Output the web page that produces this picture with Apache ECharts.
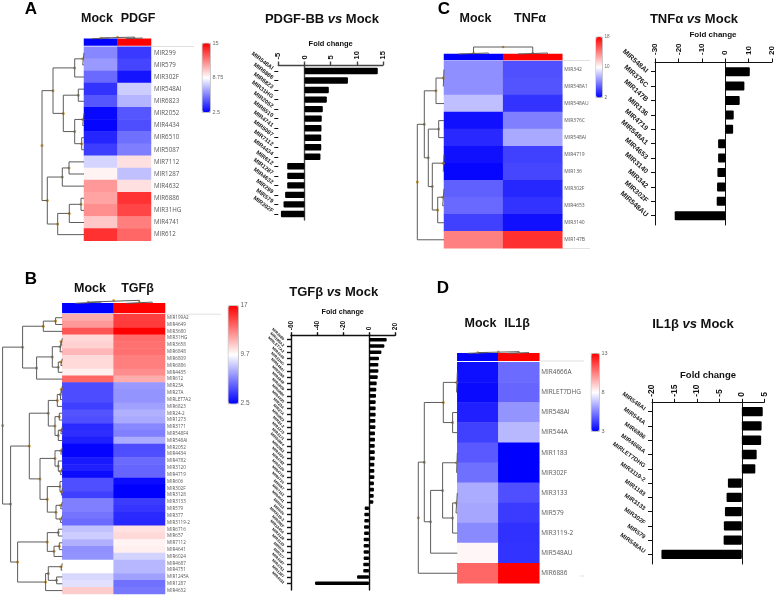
<!DOCTYPE html>
<html>
<head>
<meta charset="utf-8">
<title>miRNA heatmaps</title>
<script src="https://cdn.jsdelivr.net/npm/echarts@6/dist/echarts.min.js"></script>
<style>
html, body { margin: 0; padding: 0; background: #fff; }
#main { width: 776px; height: 595px; }
</style>
</head>
<body>
<div id="main"></div>
<script>
// panel A
const rowsA = ['MIR299', 'MIR579', 'MIR302F', 'MIR548AI', 'MIR6823', 'MIR2052', 'MIR4434', 'MIR6510', 'MIR5087', 'MIR7112', 'MIR1287', 'MIR4632', 'MIR6886', 'MIR31HG', 'MIR4741', 'MIR612'];
const mockA = [5.8, 6.25, 5.1, 3.75, 4.6, 2.7, 2.6, 3.4, 4.0, 7.7, 9.05, 11.25, 11, 11.5, 10.1, 13.8];
const pdgfA = [3.9, 4.2, 3.0, 7.5, 6.9, 4.6, 4.4, 5.25, 5.6, 9.5, 7.2, 9.5, 13.75, 13.3, 11.9, 12.5];
const treeA = [42,
  [31, [9.3, [1.3, 0, 1], 2], [20.7, [5.7, 3, 4], [9.3, [1.3, 5, 6], [2.3, 7, 8]]]],
  [36.7, [21.7, [15, 9, 10], 11], [26.3, [14.7, [3, 12, 13], 14], 15]]];
const colTreeA = [1.6, [0.7, 0, 1], [0.7, 2, 3]];
const barCatsA = ['MIR548AI', 'MIR6886', 'MIR6823', 'MIR31HG', 'MIR2052', 'MIR6510', 'MIR4741', 'MIR5087', 'MIR7112', 'MIR4434', 'MIR612', 'MIR1287', 'MIR4632', 'MIR299', 'MIR579', 'MIR302F'];
const barValsA = [14.0, 8.3, 4.65, 4.27, 3.5, 3.3, 3.25, 3.2, 3.2, 3.05, -3.3, -3.3, -3.3, -3.7, -4.0, -4.5];

// panel B
const rowsB = ['MIR199A2', 'MIR4649', 'MIR3680', 'MIR31HG', 'MIR3658', 'MIR6848', 'MIR6809', 'MIR6886', 'MIR4435', 'MIR612', 'MIR23A', 'MIR27A', 'MIRLET7A2', 'MIR6823', 'MIR24-2', 'MIR1273', 'MIR3171', 'MIR548F4', 'MIR548AI', 'MIR2052', 'MIR4434', 'MIR4782', 'MIR3120', 'MIR4719', 'MIR606', 'MIR302F', 'MIR3128', 'MIR3133', 'MIR579', 'MIR377', 'MIR3119-2', 'MIR6716', 'MIR657', 'MIR7112', 'MIR4641', 'MIR6024', 'MIR4687', 'MIR4751', 'MIR1245A', 'MIR1287', 'MIR4632'];
const mockB = [12.1, 12.65, 14.6, 10.9, 11.05, 11.8, 10.8, 10.85, 10.2, 14.1, 4.7, 4.7, 4.7, 4.3, 4.9, 4.75, 3.7, 3.8, 3.4, 2.65, 2.65, 3.2, 3.4, 2.8, 4.75, 4.75, 4.3, 6.1, 6.1, 5.8, 5.5, 8, 8.3, 7.5, 6.6, 6.7, 9.75, 9.75, 8.65, 8.9, 11.2];
const tgfB = [15.2, 15.3, 17, 14, 13.8, 13.8, 13.4, 13.4, 13, 12.1, 6.85, 6.7, 6.7, 7.05, 7.5, 7.3, 6.35, 6.1, 7.35, 4.7, 4.75, 5.5, 5.4, 5.4, 2.8, 2.5, 2.5, 4.2, 4, 3.7, 3.6, 10.6, 10.85, 10.1, 10.2, 8.5, 7.7, 7.7, 7.05, 5.7, 5.9];
const treeB = [59.7,
  [39.7, [19, [6.7, 0, 1], 2], [25.7, [10, [2.3, [1.3, 3, 4], 5], [4, [1.5, 6, 7], 8]], 9]],
  [51.7,
    [33,
      [14, [5, [2, [1, 10, 11], 12], 13], [7.3, [3, 14, 15], [4, [1.5, 16, 17], 18]]],
      [22.3, [7.3, [1.5, 19, 20], [4, 21, [2, 22, 23]]], [15, [2.3, 24, [1, 25, 26]], [6.3, [1.7, 27, 28], [2, 29, 30]]]]],
    [44.7,
      [15, [4, 31, 32], [8.3, [3, 33, 34], 35]],
      [16.7, [14, [1.3, 36, 37], [5.7, 38, 39]], 40]]]];
const colTreeB = [3, [1.2, 0, 1], [1.2, 2, 3]];
const barCatsB = ['MIR3680', 'MIR199A2', 'MIRLET7A2', 'MIR4649', 'MIR31HG', 'MIR548AI', 'MIR3658', 'MIR6848', 'MIR6809', 'MIR6886', 'MIR4435', 'MIR23A', 'MIR27A', 'MIR6823', 'MIR24-2', 'MIR1273', 'MIR3171', 'MIR548F4', 'MIR2052', 'MIR4434', 'MIR4782', 'MIR3120', 'MIR4719', 'MIR6716', 'MIR657', 'MIR7112', 'MIR4641', 'MIR612', 'MIR606', 'MIR3119-2', 'MIR302F', 'MIR1245A', 'MIR3128', 'MIR3133', 'MIR579', 'MIR377', 'MIR4687', 'MIR4751', 'MIR1287', 'MIR4632'];
const barValsB = [13.6, 11.8, 9.5, 7.7, 7.2, 7.2, 6.7, 5.9, 5.6, 5.4, 5.1, 5.1, 5.1, 4.9, 4.9, 4.6, 4.6, 4.4, 4.4, 4.4, 4.1, 4.1, 4.1, 3.8, 3.8, 3.6, 3.3, -3.3, -3.6, -3.6, -3.8, -3.8, -4.1, -4.1, -4.1, -4.1, -4.4, -4.4, -9.2, -41.5];

// panel C
const rowsC = ['MIR342', 'MIR548A1', 'MIR548AU', 'MIR376C', 'MIR548AI', 'MIR4719', 'MIR136', 'MIR302F', 'MIR4653', 'MIR3140', 'MIR147B'];
const mockC = [6.5, 6.5, 8, 2.5, 3.3, 2.5, 2.2, 5, 5.3, 4, 14];
const tnfC = [4.5, 4.65, 3.6, 6, 7.3, 4, 4.2, 3.2, 3.6, 2.5, 16.5];
const treeC = [26.7,
  [19.7, [8, [0.7, 0, 1], 2],
    [15.7, [5.3, 3, 4], [11.7, [0.7, 5, 6], [6.3, [1.3, 7, 8], 9]]]],
  10];
const colTreeC = [7, [1, 0, 1], [1, 2, 3]];
const barCatsC = ['MIR548AI', 'MIR376C', 'MIR147B', 'MIR136', 'MIR4719', 'MIR548A1', 'MIR4653', 'MIR3140', 'MIR342', 'MIR302F', 'MIR548AU'];
const barValsC = [10.4, 8.1, 6.1, 3.55, 3.3, -3.1, -3.1, -3.4, -3.55, -3.7, -21.6];

// panel D
const rowsD = ['MIR4666A', 'MIRLET7DHG', 'MIR548AI', 'MIR544A', 'MIR1183', 'MIR302F', 'MIR3133', 'MIR579', 'MIR3119-2', 'MIR548AU', 'MIR6886'];
const mockD = [3.3, 3.2, 3.6, 4.25, 4.75, 5.2, 6.35, 6.25, 5.7, 8.15, 11];
const il1D = [5.1, 5, 5.9, 6.6, 3, 3, 4.55, 4.15, 3.95, 4, 13];
const treeD = [39,
  [33, [14, [0.7, 0, 1], [4.7, 2, 3]],
    [26.7, [14.7, [0.7, 4, 5], [4.7, [1.3, 6, 7], 8]], 9]],
  10];
const colTreeD = [1.6, [0.7, 0, 1], [0.7, 2, 3]];
const barCatsD = ['MIR548AI', 'MIR544A', 'MIR6886', 'MIR4666A', 'MIRLET7DHG', 'MIR3119-2', 'MIR1183', 'MIR3133', 'MIR302F', 'MIR579', 'MIR548AU'];
const barValsD = [4.65, 4.4, 4.3, 3.3, 3.0, -3.1, -3.4, -3.76, -4, -4.05, -17.9];

const FONT = '"Liberation Sans", Arial, sans-serif';
const LABEL_FONT = '"Open Sans", "Liberation Sans", sans-serif';
const AMBER = '#c98a12';
const TREE_LINE = '#5c5c5c';

const panels = [
  {
    letter: 'A', letterPos: [31, 9],
    rows: rowsA, a: mockA, b: pdgfA, tree: treeA, colTree: colTreeA,
    names: ['Mock', 'PDGF'], namePos: [[97, 19], [138, 19]],
    range: [2.5, 15], rangeText: ['15', '8.75', '2.5'],
    hm: { left: 84, right: 151, top: 46.7, bottom: 240.7, head: [38.7, 45.5], dendroW: 44, colH: 3, font: 6.2, rowMargin: 3 },
    cbar: { left: 202, top: 43, w: 8, h: 69, font: 5.5 },
    cats: barCatsA, vals: barValsA,
    title: ['PDGF-BB ', ' Mock'], titlePos: [322, 19],
    fold: { pos: [330.7, 43.7], font: 7.5 },
    bar: { left: 278.3, right: 383, top: 65, bottom: 220, min: -5, max: 15, interval: 5, first: 71, step: 9.53, barH: 6.4, leftLine: false, tickFont: 7.5, tickMargin: 5.5, catFont: 5.7, catRotate: -37, catMargin: 7.5, catAlign: 'bottom', lw: 1.4, axisColor: '#444' }
  },
  {
    letter: 'B', letterPos: [31, 279],
    rows: rowsB, a: mockB, b: tgfB, tree: treeB, colTree: colTreeB,
    names: ['Mock', 'TGF\u03b2'], namePos: [[90, 289], [137.5, 289]],
    range: [2.5, 17], rangeText: ['17', '9.7', '2.5'],
    hm: { left: 62.3, right: 165, top: 314.3, bottom: 594, head: [303.3, 313], dendroW: 62, colH: 3, font: 4.6, rowMargin: 2 },
    cbar: { left: 228, top: 305.5, w: 10, h: 98, font: 6.5 },
    cats: barCatsB, vals: barValsB,
    title: ['TGF\u03b2 ', ' Mock'], titlePos: [333.7, 292],
    fold: { pos: [342.7, 311.7], font: 7.2 },
    bar: { left: 291, right: 395, top: 335.7, bottom: 590, min: -60, max: 20, interval: 20, first: 339.7, step: 6.245, barH: 3.6, leftLine: true, tickFont: 6.5, tickMargin: 5.5, catFont: 3.8, catRotate: -45, catMargin: 7.5, catAlign: 'middle', lw: 1.4, axisColor: '#111' }
  },
  {
    letter: 'C', letterPos: [444, 9],
    rows: rowsC, a: mockC, b: tnfC, tree: treeC, colTree: colTreeC,
    names: ['Mock', 'TNF\u03b1'], namePos: [[475.5, 19], [530, 19]],
    range: [2, 18], rangeText: ['18', '10', '2'],
    hm: { left: 444, right: 562.3, top: 61, bottom: 248.3, head: [54, 60], dendroW: 28, colH: 7, font: 5, rowMargin: 2 },
    cbar: { left: 595.7, top: 36.7, w: 6.3, h: 60.6, font: 4.6 },
    cats: barCatsC, vals: barValsC,
    title: ['TNF\u03b1 ', ' Mock'], titlePos: [694, 19],
    fold: { pos: [713, 35], font: 8 },
    bar: { left: 655, right: 772.3, top: 62, bottom: 225, min: -30, max: 20, interval: 10, first: 71.7, step: 14.4, barH: 9, leftLine: true, tickFont: 8, tickMargin: 7, catFont: 7, catRotate: -42, catMargin: 8, catAlign: 'middle', lw: 1, axisColor: '#111' }
  },
  {
    letter: 'D', letterPos: [443, 288],
    rows: rowsD, a: mockD, b: il1D, tree: treeD, colTree: colTreeD,
    names: ['Mock', 'IL1\u03b2'], namePos: [[480.5, 323.7], [517, 323.7]],
    range: [3, 13], rangeText: ['13', '8', '3'],
    hm: { left: 457.3, right: 539.3, top: 362.3, bottom: 583.3, head: [353.3, 360.7], dendroW: 41, colH: 1.6, font: 6.4, rowMargin: 2 },
    cbar: { left: 591, top: 353.3, w: 8, h: 77.7, font: 5.5 },
    cats: barCatsD, vals: barValsD,
    title: ['IL1\u03b2 ', ' Mock'], titlePos: [693, 324],
    fold: { pos: [708, 375], font: 9.5 },
    bar: { left: 652, right: 764.3, top: 402.3, bottom: 564, min: -20, max: 5, interval: 5, first: 411.7, step: 14.27, barH: 9.3, leftLine: true, tickFont: 8.5, tickMargin: 5.5, catFont: 6, catRotate: -36, catMargin: 9, catAlign: 'bottom', lw: 1, axisColor: '#111' }
  }
];

// faint guide lines next to the heatmaps
const guides = [
  [151, 46.5, 194, 46.5], [562, 60.5, 590, 60.5], [562, 248.5, 590, 248.5],
  [165, 314.2, 221, 314.2], [540, 361, 584, 361], [580, 576, 584, 576]
];

const grids = [], xAxes = [], yAxes = [], series = [], visualMaps = [], graphics = [];

function addGrid(rect, xAxis, yAxis) {
  const gridIndex = grids.length;
  grids.push({ left: rect.left, top: rect.top, width: rect.width, height: rect.height, containLabel: false });
  const xList = Array.isArray(xAxis) ? xAxis : [xAxis];
  const yList = Array.isArray(yAxis) ? yAxis : [yAxis];
  const xIndex = xAxes.length, yIndex = yAxes.length;
  xList.forEach(a => xAxes.push(Object.assign({ gridIndex }, a)));
  yList.forEach(a => yAxes.push(Object.assign({ gridIndex }, a)));
  return { xAxisIndex: xIndex, yAxisIndex: yIndex };
}

function addText(text, pos, font, weight, color, extra) {
  graphics.push({
    type: 'text', x: pos[0], y: pos[1], silent: true,
    style: Object.assign({
      text, fontFamily: FONT, fontSize: font, fontWeight: weight, fill: color,
      align: 'center', verticalAlign: 'middle'
    }, extra || {})
  });
}

// walks a [height, childA, childB] tree, a plain number is a leaf
function walkTree(node, lines, points) {
  if (typeof node === 'number') return { pos: node + 0.5, h: 0 };
  const a = walkTree(node[1], lines, points);
  const b = walkTree(node[2], lines, points);
  const h = node[0];
  lines.push([a.h, a.pos], [h, a.pos], [h, b.pos], [b.h, b.pos], ['-', '-']);
  const pos = (a.pos + b.pos) / 2;
  points.push([h, pos]);
  return { pos, h };
}

function addRowDendro(p) {
  const hm = p.hm;
  const idx = addGrid(
    { left: hm.left - hm.dendroW, top: hm.top, width: hm.dendroW, height: hm.bottom - hm.top },
    { type: 'value', min: 0, max: hm.dendroW, inverse: true, show: false },
    { type: 'value', min: 0, max: p.rows.length, inverse: true, show: false }
  );
  const lines = [], points = [];
  walkTree(p.tree, lines, points);
  series.push(Object.assign({ type: 'line', data: lines, showSymbol: false, clip: false, silent: true, lineStyle: { color: TREE_LINE, width: 1 } }, idx));
  series.push(Object.assign({ type: 'scatter', data: points, symbolSize: 3, clip: false, silent: true, itemStyle: { color: AMBER } }, idx));
}

function addColDendro(p) {
  const hm = p.hm;
  const idx = addGrid(
    { left: hm.left, top: hm.head[0] - hm.colH, width: hm.right - hm.left, height: hm.colH },
    { type: 'value', min: 0, max: 4, show: false },
    { type: 'value', min: 0, max: hm.colH, show: false }
  );
  const lines = [], points = [];
  walkTree(p.colTree, lines, points);
  const swap = d => d[0] === '-' ? d : [d[1], d[0]];
  series.push(Object.assign({ type: 'line', data: lines.map(swap), showSymbol: false, clip: false, silent: true, lineStyle: { color: TREE_LINE, width: 1 } }, idx));
  series.push(Object.assign({ type: 'scatter', data: points.map(swap), symbolSize: 2.5, clip: false, silent: true, itemStyle: { color: AMBER } }, idx));
}

function addHeatmap(p, seriesForMap) {
  const hm = p.hm;
  const idx = addGrid(
    { left: hm.left, top: hm.top, width: hm.right - hm.left, height: hm.bottom - hm.top },
    { type: 'category', data: p.names, show: false },
    {
      type: 'category', data: p.rows, inverse: true, position: 'right',
      axisLine: { show: false }, axisTick: { show: false },
      axisLabel: { interval: 0, fontSize: hm.font, fontFamily: LABEL_FONT, color: '#555', margin: hm.rowMargin }
    }
  );
  const data = [];
  p.rows.forEach((r, i) => { data.push([0, i, p.a[i]]); data.push([1, i, p.b[i]]); });
  seriesForMap.push(series.length);
  series.push(Object.assign({ type: 'heatmap', data, silent: true, progressive: 0 }, idx));

  const headIdx = addGrid(
    { left: hm.left, top: hm.head[0], width: hm.right - hm.left, height: hm.head[1] - hm.head[0] },
    { type: 'category', data: p.names, show: false },
    { type: 'category', data: ['group'], show: false }
  );
  seriesForMap.push(series.length);
  series.push(Object.assign({ type: 'heatmap', silent: true, data: [[0, 0, p.range[0]], [1, 0, p.range[1]]] }, headIdx));
}

function addColorbar(p, seriesForMap) {
  const c = p.cbar;
  visualMaps.push({
    type: 'continuous', min: p.range[0], max: p.range[1], seriesIndex: seriesForMap,
    left: c.left, top: c.top, itemWidth: c.w, itemHeight: c.h, padding: 0,
    calculable: false, hoverLink: false, text: null, orient: 'vertical',
    borderColor: '#8a8a8a', borderWidth: 0.6,
    inRange: { color: ['#0000ff', '#ffffff', '#ff0000'] }
  });
  const xText = c.left + c.w + 2.5;
  p.rangeText.forEach((t, i) => {
    addText(t, [xText, c.top + c.h * i / 2], c.font, 'normal', '#666', { align: 'left' });
  });
}

function addBars(p) {
  const b = p.bar;
  // frame: top value axis and the long vertical lines
  addGrid(
    { left: b.left, top: b.top, width: b.right - b.left, height: b.bottom - b.top },
    {
      type: 'value', position: 'top', min: b.min, max: b.max, interval: b.interval,
      splitLine: { show: false },
      axisLine: { onZero: false, lineStyle: { color: b.axisColor, width: b.lw } },
      axisTick: { show: true, length: 3.5, lineStyle: { color: b.axisColor, width: b.lw } },
      axisLabel: { rotate: -90, margin: b.tickMargin, fontSize: b.tickFont, fontWeight: 'bold', fontFamily: FONT, color: '#111' }
    },
    [
      {
        type: 'value', position: 'left', min: 0, max: 1, inverse: true, show: b.leftLine,
        splitLine: { show: false }, axisTick: { show: false }, axisLabel: { show: false },
        axisLine: { show: true, onZero: false, lineStyle: { color: b.axisColor, width: b.lw } }
      },
      {
        type: 'value', position: 'right', min: 0, max: 1, inverse: true,
        splitLine: { show: false }, axisTick: { show: false }, axisLabel: { show: false },
        axisLine: { show: true, onZero: true, lineStyle: { color: b.axisColor, width: b.lw } }
      }
    ]
  );
  // bars and their category ticks
  const idx = addGrid(
    { left: b.left, top: b.first - b.step / 2, width: b.right - b.left, height: b.step * p.cats.length },
    { type: 'value', min: b.min, max: b.max, show: false },
    {
      type: 'category', data: p.cats, inverse: true, position: 'left',
      axisLine: { show: false, onZero: false },
      axisTick: { show: true, alignWithLabel: true, length: 4, lineStyle: { color: '#111', width: p.letter === 'B' ? 1.4 : 1 } },
      axisLabel: { interval: 0, rotate: b.catRotate, margin: b.catMargin, verticalAlign: b.catAlign, fontSize: b.catFont, fontWeight: 'bold', fontFamily: FONT, color: '#222' }
    }
  );
  series.push(Object.assign({
    type: 'bar', data: p.vals, barWidth: b.barH, silent: true,
    itemStyle: { color: '#000', borderRadius: 1 }
  }, idx));
}

panels.forEach(p => {
  const seriesForMap = [];
  addRowDendro(p);
  addColDendro(p);
  addHeatmap(p, seriesForMap);
  addColorbar(p, seriesForMap);
  addBars(p);

  addText(p.letter, p.letterPos, 17, 'bold', '#000');
  p.names.forEach((n, i) => addText(n, p.namePos[i], 12.5, 'bold', '#111'));
  addText('{t|' + p.title[0] + '}{v|vs}{t|' + p.title[1] + '}', p.titlePos, 13, 'bold', '#111', {
    rich: {
      t: { fontFamily: FONT, fontSize: 13, fontWeight: 'bold', fill: '#111' },
      v: { fontFamily: FONT, fontSize: 13, fontWeight: 'bold', fontStyle: 'italic', fill: '#111' }
    }
  });
  addText('Fold change', p.fold.pos, p.fold.font, 'bold', '#111');
});

guides.forEach(g => {
  graphics.push({
    type: 'line', silent: true,
    shape: { x1: g[0], y1: g[1], x2: g[2], y2: g[3] },
    style: { stroke: '#d9d9d9', lineWidth: 0.8 }
  });
});

const chart = echarts.init(document.getElementById('main'), null, { renderer: 'canvas' });
chart.setOption({
  animation: false,
  backgroundColor: '#fff',
  grid: grids,
  xAxis: xAxes,
  yAxis: yAxes,
  visualMap: visualMaps,
  graphic: graphics,
  series
});
</script>
</body>
</html>
